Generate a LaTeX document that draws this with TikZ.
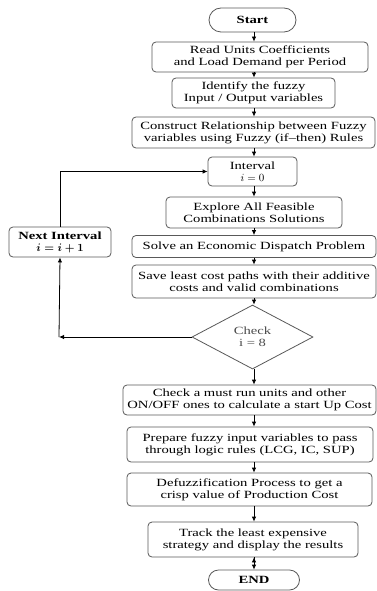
\documentclass[tikz,border=0pt]{standalone}
\usepackage{fontspec}
\setmainfont{Liberation Serif}[FakeStretch=1.33]
\usetikzlibrary{arrows.meta,shapes.geometric,shapes.misc,calc}
\tikzset{
    proc/.style =   {rectangle,
                    rounded corners=4pt,
                    fill=white,
                    draw=black!65,
                    text=black,
                    line width=0.8pt,
                    align=center,
                    inner sep=1pt,
                    font=\fontsize{11}{12}\selectfont},
    term/.style =   {rounded rectangle,
                    fill=white,
                    draw=black!65,
                    text=black,
                    line width=0.8pt,
                    inner sep=1pt,
                    font=\fontsize{11}{12}\selectfont\bfseries},
    test/.style =   {diamond,
                    aspect=1.9,
                    fill=white,
                    draw=black!65,
                    text=black!70,
                    line width=0.8pt,
                    align=center,
                    inner sep=0pt,
                    font=\fontsize{11}{12}\selectfont},
    wh/.style 2 args = {minimum width=#1pt,
                    minimum height=#2pt},
    flow/.style =   {draw=black,
                    line width=0.8pt,
                    -{Latex[length=5pt,width=4.5pt]}}
}
\begin{document}
\begin{tikzpicture}[x=1pt,y=-1pt]
    \useasboundingbox[fill=white] (0,0) rectangle (377,591);
    \coordinate (X) at (254,0);
    % main column
    \node[term, wh={89}{24}]  (A) at (252.5,20)  {Start};
    \node[proc, wh={216}{30}] (B) at (260,57)    {Read Units Coefficients\\and Load Demand per Period};
    \node[proc, wh={163}{30}] (C) at (253.5,93)  {Identify the fuzzy\\Input / Output variables};
    \node[proc, wh={243}{31}] (D) at (253.5,132.5) {Construct Relationship between Fuzzy\\variables using Fuzzy (if--then) Rules};
    \node[proc, wh={89}{29}]  (E) at (252.5,171.5) {Interval\\$i = 0$};
    \node[proc, wh={176}{31}] (F) at (254,212.5) {Explore All Feasible\\Combinations Solutions};
    \node[proc, wh={244}{22}] (G) at (254,246.5) {Solve an Economic Dispatch Problem};
    \node[proc, wh={244}{33}] (H) at (254,281.5) {Save least cost paths with their additive\\costs and valid combinations};
    \node[test, wh={121}{64}] (I) at (252.5,337) {Check\\i = 8};
    \node[proc, wh={253}{30}] (J) at (249.5,400) {Check a must run units and other\\ON/OFF ones to calculate a start Up Cost};
    \node[proc, wh={246}{35}] (K) at (250,444.5) {Prepare fuzzy input variables to pass\\through logic rules (LCG, IC, SUP)};
    \node[proc, wh={245}{33}] (L) at (249.5,489.5) {Defuzzification Process to get a\\crisp value of Production Cost};
    \node[proc, wh={210}{35}] (M) at (253,539.5) {Track the least expensive\\strategy and display the results};
    \node[term, wh={93}{20}]  (N) at (254,580)   {END};
    % loop back
    \node[proc, wh={102}{30}, font=\fontsize{11}{12}\selectfont\bfseries\boldmath] (P) at (60,242) {Next Interval\\$i = i + 1$};
    \coordinate (Q) at (59,337);
    \path[flow] (A.south -| X) edge (B.north -| X)
                (B.south -| X) edge (C.north -| X)
                (C.south -| X) edge (D.north -| X)
                (D.south -| X) edge (E.north -| X)
                (E.south -| X) edge (F.north -| X)
                (F.south -| X) edge (G.north -| X)
                (G.south -| X) edge (H.north -| X)
                (H.south -| X) edge (I.north -| X)
                (I.south -| X) edge (J.north -| X)
                (J.south -| X) edge (K.north -| X)
                (K.south -| X) edge (L.north -| X)
                (L.south -| X) edge (M.north -| X)
                (M.south -| X) edge (N.north -| X);
    \draw[flow] (I.west) -- (Q);
    \draw[flow] (Q) -- (P.south);
    \draw[flow] (P.north) |- (E.west);
\end{tikzpicture}
\end{document}
